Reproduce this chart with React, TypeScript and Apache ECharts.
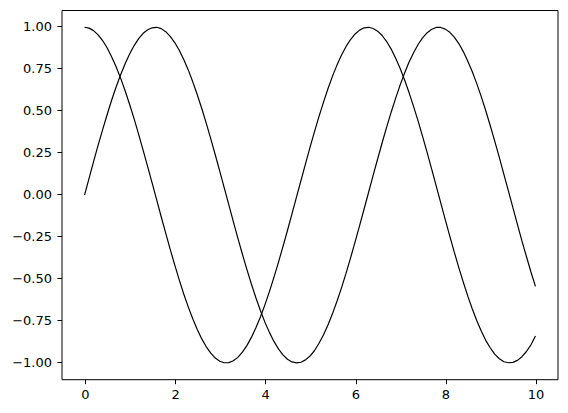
import React, { useEffect, useRef } from "react";
import * as echarts from "echarts";

const xValues = [
  0.0, 0.1, 0.2, 0.3, 0.4, 0.5, 0.6, 0.7, 0.8, 0.9, 1.0, 1.1, 1.2, 1.3, 1.4, 1.5, 1.6, 1.7, 1.8, 1.9,
  2.0, 2.1, 2.2, 2.3, 2.4, 2.5, 2.6, 2.7, 2.8, 2.9, 3.0, 3.1, 3.2, 3.3, 3.4, 3.5, 3.6, 3.7, 3.8, 3.9,
  4.0, 4.1, 4.2, 4.3, 4.4, 4.5, 4.6, 4.7, 4.8, 4.9, 5.0, 5.1, 5.2, 5.3, 5.4, 5.5, 5.6, 5.7, 5.8, 5.9,
  6.0, 6.1, 6.2, 6.3, 6.4, 6.5, 6.6, 6.7, 6.8, 6.9, 7.0, 7.1, 7.2, 7.3, 7.4, 7.5, 7.6, 7.7, 7.8, 7.9,
  8.0, 8.1, 8.2, 8.3, 8.4, 8.5, 8.6, 8.7, 8.8, 8.9, 9.0, 9.1, 9.2, 9.3, 9.4, 9.5, 9.6, 9.7, 9.8, 9.9,
  10.0,
];

const sinValues = [
  0.0, 0.1, 0.199, 0.296, 0.389, 0.479, 0.565, 0.644, 0.717, 0.783,
  0.841, 0.891, 0.932, 0.964, 0.985, 0.997, 1.0, 0.992, 0.974, 0.946,
  0.909, 0.863, 0.808, 0.746, 0.675, 0.598, 0.516, 0.427, 0.335, 0.239,
  0.141, 0.042, -0.058, -0.158, -0.256, -0.351, -0.443, -0.53, -0.612, -0.688,
  -0.757, -0.818, -0.872, -0.916, -0.952, -0.978, -0.994, -1.0, -0.996, -0.982,
  -0.959, -0.926, -0.883, -0.832, -0.773, -0.706, -0.631, -0.551, -0.465, -0.374,
  -0.279, -0.182, -0.083, 0.017, 0.117, 0.215, 0.312, 0.405, 0.494, 0.578,
  0.657, 0.729, 0.794, 0.85, 0.899, 0.938, 0.968, 0.988, 0.999, 0.999,
  0.989, 0.97, 0.941, 0.903, 0.855, 0.798, 0.735, 0.663, 0.585, 0.501,
  0.412, 0.319, 0.223, 0.124, 0.025, -0.075, -0.174, -0.273, -0.366, -0.458,
  -0.544,
];

const cosValues = [
  1.0, 0.995, 0.98, 0.955, 0.921, 0.878, 0.825, 0.765, 0.697, 0.622,
  0.54, 0.454, 0.362, 0.267, 0.17, 0.071, -0.029, -0.129, -0.227, -0.323,
  -0.416, -0.505, -0.589, -0.666, -0.737, -0.801, -0.857, -0.904, -0.942, -0.971,
  -0.99, -0.999, -0.998, -0.987, -0.967, -0.936, -0.897, -0.848, -0.791, -0.726,
  -0.654, -0.575, -0.49, -0.401, -0.307, -0.211, -0.112, -0.012, 0.087, 0.186,
  0.284, 0.378, 0.469, 0.554, 0.635, 0.709, 0.776, 0.835, 0.886, 0.927,
  0.96, 0.983, 0.997, 1.0, 0.993, 0.977, 0.951, 0.915, 0.87, 0.816,
  0.754, 0.684, 0.608, 0.526, 0.439, 0.347, 0.252, 0.153, 0.054, -0.046,
  -0.146, -0.244, -0.34, -0.432, -0.519, -0.602, -0.679, -0.749, -0.811, -0.867,
  -0.911, -0.949, -0.975, -0.993, -0.999, -0.997, -0.985, -0.963, -0.932, -0.892,
  -0.839,
];

const W = 568;
const H = 413;

export default function App() {
  const ref = useRef<HTMLDivElement>(null);

  useEffect(() => {
    document.body.style.margin = "0";
    if (!ref.current) return;
    const chart = echarts.init(ref.current, null, { renderer: "svg" });
    const font = "DejaVu Sans";
    const labelStyle = { color: "#000", fontFamily: font, fontSize: 13 };
    const tickStyle = { show: true, length: 4.5, lineStyle: { color: "#000", width: 1 } };

    chart.setOption({
      animation: false,
      backgroundColor: "#fff",
      grid: [
        {
          left: 62,
          right: 10,
          top: 10.5,
          bottom: 33.3,
          show: true,
          borderColor: "#000",
          borderWidth: 1,
          backgroundColor: "transparent",
        },
        {
          left: 85.5,
          right: 32,
          top: 26,
          bottom: 50.3,
        },
      ],
      xAxis: [
        {
          gridIndex: 0,
          type: "value",
          min: -0.5,
          max: 10.5,
          axisLine: { show: false, onZero: false },
          axisTick: { show: false },
          axisLabel: { show: false },
          splitLine: { show: false },
        },
        {
          gridIndex: 1,
          type: "value",
          min: 0,
          max: 10,
          interval: 2,
          position: "bottom",
          offset: 17,
          axisLine: { show: false, onZero: false },
          axisTick: tickStyle,
          axisLabel: { ...labelStyle, margin: 8 },
          splitLine: { show: false },
        },
      ],
      yAxis: [
        {
          gridIndex: 0,
          type: "value",
          min: -1.1,
          max: 1.1,
          axisLine: { show: false, onZero: false },
          axisTick: { show: false },
          axisLabel: { show: false },
          splitLine: { show: false },
        },
        {
          gridIndex: 1,
          type: "value",
          min: -1,
          max: 1,
          interval: 0.25,
          position: "left",
          offset: 23.5,
          axisLine: { show: false, onZero: false },
          axisTick: tickStyle,
          axisLabel: {
            ...labelStyle,
            margin: 10,
            formatter: (v: number) => v.toFixed(2).replace("-", "\u2212"),
          },
          splitLine: { show: false },
        },
      ],
      series: [
        {
          type: "line",
          xAxisIndex: 0,
          yAxisIndex: 0,
          data: xValues.map((x, i) => [x, sinValues[i]]),
          showSymbol: false,
          lineStyle: { color: "#000", width: 1.2 },
        },
        {
          type: "line",
          xAxisIndex: 0,
          yAxisIndex: 0,
          data: xValues.map((x, i) => [x, cosValues[i]]),
          showSymbol: false,
          lineStyle: { color: "#000", width: 1.2 },
        },
      ],
    });

    return () => chart.dispose();
  }, []);

  return <div ref={ref} style={{ width: W, height: H }} />;
}
